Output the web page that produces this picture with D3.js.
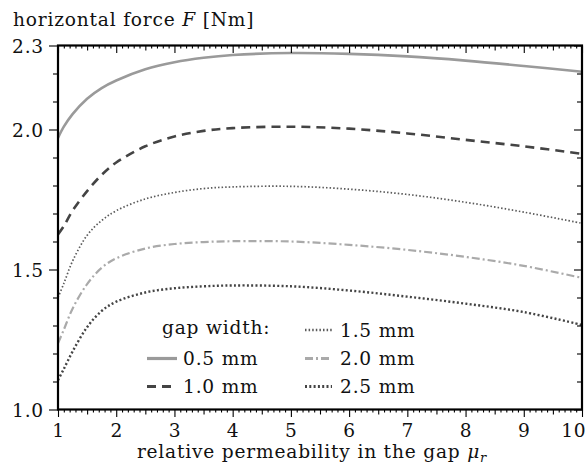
<!DOCTYPE html>
<html><head><meta charset="utf-8">
<script src="https://cdn.jsdelivr.net/npm/d3@7"></script>
<style>body{margin:0;background:#fff} text{font-family:"DejaVu Serif",serif;fill:#111;letter-spacing:0.8px}</style>
</head><body><svg id="c" width="587" height="472"></svg>
<script>
// ---- data ----
const mu      = [1, 1.1, 1.25, 1.5, 1.75, 2, 2.5, 3, 3.5, 4, 5, 6, 7, 8, 9, 10];
const gap05   = [1.970, 2.010, 2.055, 2.110, 2.148, 2.175, 2.215, 2.240, 2.256, 2.266, 2.273, 2.270, 2.261, 2.246, 2.227, 2.206];
const gap10   = [1.625, 1.655, 1.710, 1.780, 1.838, 1.882, 1.940, 1.975, 1.995, 2.005, 2.010, 2.003, 1.986, 1.963, 1.940, 1.913];
const gap15   = [1.400, 1.450, 1.530, 1.622, 1.675, 1.710, 1.752, 1.775, 1.789, 1.795, 1.797, 1.787, 1.768, 1.740, 1.705, 1.665];
const gap20   = [1.236, 1.285, 1.360, 1.448, 1.506, 1.540, 1.575, 1.591, 1.598, 1.601, 1.600, 1.588, 1.570, 1.545, 1.513, 1.470];
const gap25   = [1.105, 1.145, 1.207, 1.294, 1.352, 1.385, 1.418, 1.433, 1.440, 1.443, 1.440, 1.425, 1.403, 1.378, 1.348, 1.302];
const seriesNames = ["0.5 mm", "1.0 mm", "1.5 mm", "2.0 mm", "2.5 mm"];
const xTickLabels = [1, 2, 3, 4, 5, 6, 7, 8, 9, 10];
const yTickValues = [1.0, 1.5, 2.0, 2.3];
const yTickLabels = ["1.0", "1.5", "2.0", "2.3"];

// ---- layout ----
const svg = d3.select("#c");
const L = 58, R = 582, T = 45.5, B = 409.5;
const x = d3.scaleLinear().domain([1, 10]).range([L, R]);
const y = d3.scaleLinear().domain([1.0, 2.3]).range([B, T]);
const FS = 18.6;

const styles = [
  {stroke: "#9a9a9a", width: 2.6, dash: null},
  {stroke: "#444",    width: 2.6, dash: "9,6"},
  {stroke: "#5a5a5a", width: 1.7, dash: "1.5,2.1"},
  {stroke: "#aaa",    width: 2.2, dash: "8,3,2,3"},
  {stroke: "#444",    width: 2.4, dash: "2,2.3"}
];
const series = [gap05, gap10, gap15, gap20, gap25];

svg.append("clipPath").attr("id", "clip").append("rect")
  .attr("x", L).attr("y", T).attr("width", R - L).attr("height", B - T);

const line = d3.line().x((d, i) => x(mu[i])).y(d => y(d)).curve(d3.curveCatmullRom.alpha(0.5));
svg.append("g").attr("clip-path", "url(#clip)").selectAll("path").data(series).join("path")
  .attr("d", d => line(d)).attr("fill", "none")
  .attr("stroke", (d, i) => styles[i].stroke)
  .attr("stroke-width", (d, i) => styles[i].width)
  .attr("stroke-dasharray", (d, i) => styles[i].dash);

// ---- ticks ----
const all = d3.range(10, 101).map(i => i / 10);
const xMinor = all.filter(v => Math.abs(v * 2 - Math.round(v * 2)) > 1e-6);
const xHalf = all.filter(v => Math.abs(v * 2 - Math.round(v * 2)) < 1e-6 && Math.abs(v - Math.round(v)) > 1e-6);
const yAll = d3.range(10, 24).map(i => i / 10);
const yMinor = yAll.filter(v => !yTickValues.some(t => Math.abs(t - v) < 1e-6));

function tickAxis(gen, vals, size, tr, fmt) {
  const g = svg.append("g").attr("transform", tr)
    .call(gen.tickValues(vals).tickSize(size).tickSizeOuter(0).tickFormat(fmt || (() => "")));
  g.select(".domain").remove();
  g.selectAll("line").attr("stroke", "#000").attr("stroke-width", 1.1);
  return g;
}
// bottom (outward)
tickAxis(d3.axisBottom(x), xMinor, 3, `translate(0,${B})`);
tickAxis(d3.axisBottom(x), xHalf, 5, `translate(0,${B})`);
const xb = tickAxis(d3.axisBottom(x), xTickLabels, 7.5, `translate(0,${B})`, d => d);
xb.selectAll("text").attr("font-size", FS).attr("dy", 0).attr("y", 27.5)
  .attr("font-family", "DejaVu Serif").attr("fill", "#111")
  .filter(d => d === 10).attr("text-anchor", "end").attr("x", 586 - R).attr("letter-spacing", "0px");
// top (inward)
tickAxis(d3.axisBottom(x), xMinor, 3, `translate(0,${T})`);
tickAxis(d3.axisBottom(x), xHalf, 5, `translate(0,${T})`);
tickAxis(d3.axisBottom(x), xTickLabels, 7.5, `translate(0,${T})`);
// left (outward)
tickAxis(d3.axisLeft(y), yMinor, 5, `translate(${L},0)`);
const yl = tickAxis(d3.axisLeft(y), yTickValues, 9, `translate(${L},0)`, (d, i) => yTickLabels[i]);
yl.selectAll("text").attr("font-size", FS).attr("x", -14).attr("dy", "0.36em")
  .attr("font-family", "DejaVu Serif").attr("fill", "#111");
// right (inward)
tickAxis(d3.axisLeft(y), yMinor, 5, `translate(${R},0)`);
tickAxis(d3.axisLeft(y), yTickValues, 8, `translate(${R},0)`);

// frame
svg.append("rect").attr("x", L).attr("y", T).attr("width", R - L).attr("height", B - T)
  .attr("fill", "none").attr("stroke", "#000").attr("stroke-width", 2.2);

// ---- titles ----
const t1 = svg.append("text").attr("x", 13).attr("y", 26).attr("font-size", FS);
t1.append("tspan").text("horizontal force ");
t1.append("tspan").attr("font-style", "italic").text("F");
t1.append("tspan").text(" [Nm]");

const t2 = svg.append("text").attr("x", 312).attr("y", 458).attr("font-size", FS)
  .attr("text-anchor", "middle");
t2.append("tspan").text("relative permeability in the gap ");
t2.append("tspan").attr("font-style", "italic").text("μ");
t2.append("tspan").attr("font-style", "italic").attr("font-size", FS * 0.7).attr("dy", 4).text("r");

// ---- legend ----
const leg = svg.append("g");
leg.append("text").attr("x", 162).attr("y", 334).attr("font-size", FS).text("gap width:");
const legPos = [
  {sx: 147, ex: 177, tx: 183, by: 365},
  {sx: 147, ex: 177, tx: 183, by: 393},
  {sx: 305, ex: 332, tx: 340, by: 336.5},
  {sx: 305, ex: 332, tx: 340, by: 365},
  {sx: 305, ex: 332, tx: 340, by: 393}
];
seriesNames.forEach((n, i) => {
  const p = legPos[i], st = styles[i];
  leg.append("line").attr("x1", p.sx).attr("x2", p.ex).attr("y1", p.by - 6.5).attr("y2", p.by - 6.5)
    .attr("stroke", st.stroke).attr("stroke-width", st.width + 0.6).attr("stroke-dasharray", st.dash);
  leg.append("text").attr("x", p.tx).attr("y", p.by).attr("font-size", FS).text(n);
});
</script></body></html>
